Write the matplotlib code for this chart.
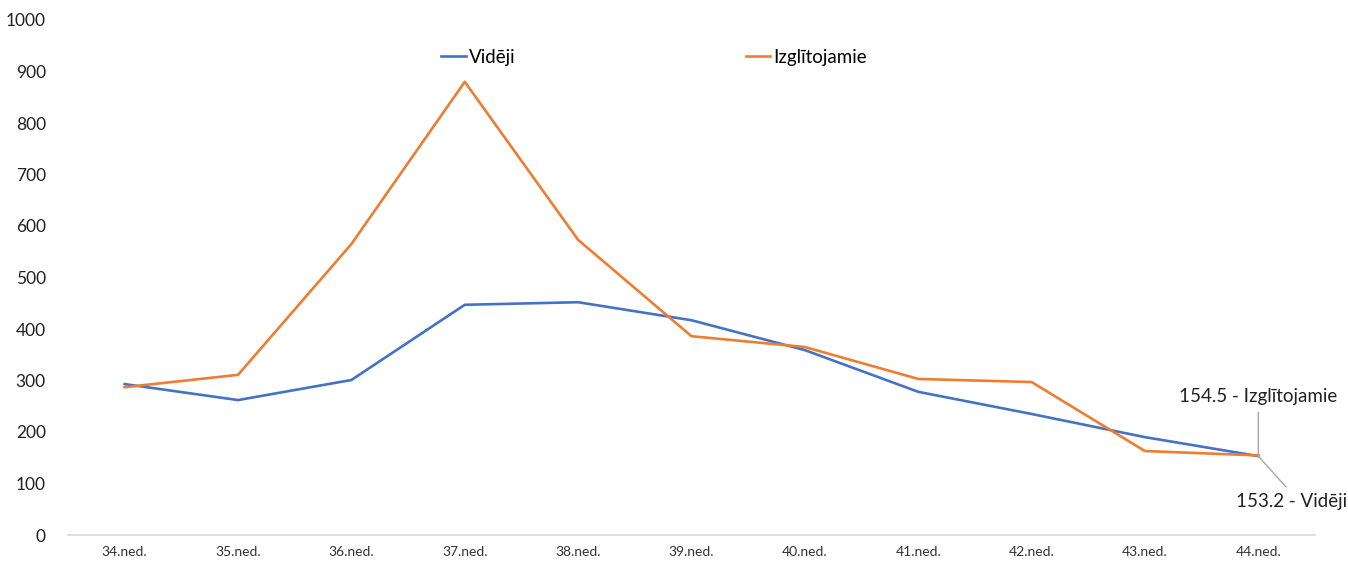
import matplotlib.pyplot as plt

plt.rcParams['font.family'] = ['Lato', 'DejaVu Sans']

weeks = ["34.ned.", "35.ned.", "36.ned.", "37.ned.", "38.ned.", "39.ned.",
         "40.ned.", "41.ned.", "42.ned.", "43.ned.", "44.ned."]
videji = [293, 262, 301, 447, 452, 417, 359, 278, 235, 190, 153.2]
izglitojamie = [287, 311, 565, 880, 573, 386, 365, 303, 297, 163, 154.5]

fig = plt.figure(figsize=(13.48, 5.61), dpi=100)
ax = fig.add_axes([68 / 1348, 26 / 561, 1247 / 1348, 515 / 561])

x = range(len(weeks))
ax.plot(x, videji, color="#4472C4", lw=1.9, label="Vidēji")
ax.plot(x, izglitojamie, color="#ED7D31", lw=1.9, label="Izglītojamie")

ax.set_xlim(-0.5, len(weeks) - 0.5)
ax.set_ylim(0, 1000)
ax.set_yticks(range(0, 1001, 100))
ax.set_xticks(list(x))
ax.set_xticklabels(weeks, fontsize=10, color="#333333")
ax.tick_params(axis="y", labelsize=12.5, colors="#222222", length=0, pad=16)
ax.tick_params(axis="x", length=0, pad=8)

for s in ["top", "right", "left"]:
    ax.spines[s].set_visible(False)
ax.spines["bottom"].set_color("#d9d9d9")
ax.spines["bottom"].set_linewidth(1.2)

# iezīmes pie pēdējā punkta
last = len(weeks) - 1
ax.annotate("154.5 - Izglītojamie", xy=(last, izglitojamie[-1]), xytext=(last, 252),
            ha="center", va="bottom", fontsize=13.5, color="#222222",
            annotation_clip=False,
            arrowprops=dict(arrowstyle="-", color="#a6a6a6", lw=1,
                            shrinkA=3, shrinkB=0, relpos=(0.5, 0)))
ax.annotate("153.2 - Vidēji", xy=(last, videji[-1]), xytext=(last + 0.29, 82),
            ha="center", va="top", fontsize=13.5, color="#222222",
            annotation_clip=False,
            arrowprops=dict(arrowstyle="-", color="#a6a6a6", lw=1,
                            shrinkA=3, shrinkB=0, relpos=(0.5, 1)))

ax.legend(loc="center", bbox_to_anchor=(0.47, 0.928), ncol=2, frameon=False,
          fontsize=13.5, handlelength=1.3, handletextpad=0.15, columnspacing=12.3)

fig.savefig("out.png", dpi=100)
